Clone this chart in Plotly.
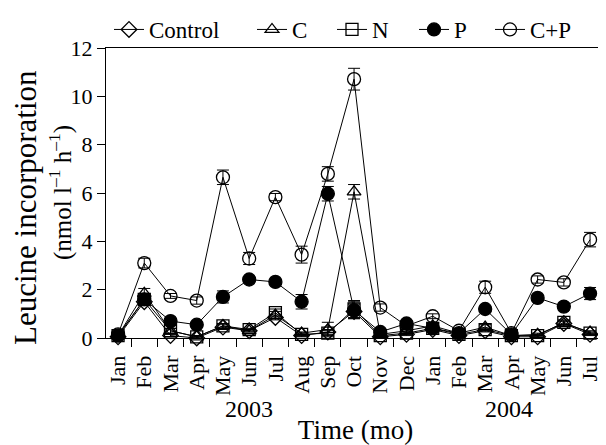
import plotly.graph_objects as go

months = ["Jan", "Feb", "Mar", "Apr", "May", "Jun", "Jul", "Aug", "Sep", "Oct", "Nov", "Dec",
          "Jan", "Feb", "Mar", "Apr", "May", "Jun", "Jul"]
x_idx = list(range(len(months)))

control = [0.05, 1.5, 0.1, 0.0, 0.45, 0.3, 0.85, 0.1, 0.25, 1.1, 0.05, 0.15, 0.35, 0.1, 0.3, 0.05, 0.05, 0.6, 0.15]
control_err = [0.05, 0.1, 0.05, 0.05, 0.1, 0.05, 0.1, 0.05, 0.1, 0.3, 0.05, 0.05, 0.05, 0.05, 0.05, 0.05, 0.05, 0.1, 0.05]
c_vals = [0.1, 1.85, 0.3, 0.05, 0.5, 0.3, 0.95, 0.2, 0.35, 6.05, 0.15, 0.3, 0.5, 0.2, 0.45, 0.1, 0.15, 0.6, 0.25]
c_err = [0.05, 0.2, 0.1, 0.05, 0.1, 0.05, 0.15, 0.05, 0.3, 0.3, 0.05, 0.05, 0.1, 0.05, 0.1, 0.05, 0.05, 0.1, 0.05]
n_vals = [0.1, 1.6, 0.3, 0.05, 0.5, 0.35, 1.05, 0.15, 0.2, 1.2, 0.1, 0.2, 0.4, 0.15, 0.35, 0.1, 0.1, 0.65, 0.2]
n_err = [0.05, 0.15, 0.1, 0.05, 0.1, 0.05, 0.15, 0.05, 0.1, 0.35, 0.05, 0.05, 0.05, 0.05, 0.05, 0.05, 0.05, 0.1, 0.05]
p_vals = [0.1, 1.6, 0.7, 0.55, 1.7, 2.42, 2.32, 1.5, 5.97, 1.15, 0.25, 0.6, 0.4, 0.2, 1.2, 0.15, 1.66, 1.3, 1.84]
p_err = [0.05, 0.15, 0.1, 0.1, 0.25, 0.1, 0.1, 0.3, 0.3, 0.35, 0.05, 0.1, 0.1, 0.05, 0.1, 0.05, 0.1, 0.15, 0.25]
cp_vals = [0.15, 3.1, 1.74, 1.55, 6.65, 3.29, 5.83, 3.45, 6.79, 10.71, 1.26, 0.5, 0.9, 0.3, 2.1, 0.2, 2.42, 2.3, 4.07]
cp_err = [0.05, 0.2, 0.1, 0.15, 0.3, 0.25, 0.15, 0.35, 0.3, 0.45, 0.15, 0.1, 0.1, 0.05, 0.25, 0.05, 0.15, 0.15, 0.3]

series = [
    ("Control", control, control_err, "diamond-open", 12, 98),
    ("C", c_vals, c_err, "triangle-up-open", 12, 35),
    ("N", n_vals, n_err, "square-open", 12, 37),
    ("P", p_vals, p_err, "circle", 13, 31),
    ("C+P", cp_vals, cp_err, "circle-open", 13, 50),
]

year_labels = ["2003", "2004"]
year_pos = [5, 14.9]
y_title_1 = "Leucine incorporation"
y_title_2 = "(nmol l<sup>–1</sup> h<sup>–1</sup>)"
x_title = "Time (mo)"

FONT = "Liberation Serif"
W, H = 598, 437  # page body adds ~8px offset

fig = go.Figure()
for name, vals, err, sym, size, lw in series:
    fig.add_trace(go.Scatter(
        x=x_idx, y=vals, name=name, mode="lines+markers",
        line=dict(color="black", width=1),
        marker=dict(symbol=sym, size=size, color="black",
                    line=dict(color="black", width=1.3)),
        error_y=dict(type="data", array=err, visible=True, color="black",
                     thickness=1, width=6),
        cliponaxis=False,
        legendwidth=lw,
    ))

for lab, pos in zip(year_labels, year_pos):
    fig.add_annotation(x=pos, y=-(409 - 338) / 290, xref="x", yref="paper", text=lab,
                       showarrow=False, yanchor="middle",
                       font=dict(family=FONT, size=24, color="black"))

# y-axis title (two lines)
fig.add_annotation(x=(17 - 98) / 499, y=(330 - 200) / 290, xref="paper", yref="paper",
                   text=y_title_1, textangle=-90, showarrow=False,
                   xanchor="center", yanchor="middle",
                   font=dict(family=FONT, size=31, color="black"))
fig.add_annotation(x=(52 - 98) / 499, y=(330 - 185) / 290, xref="paper", yref="paper",
                   text=y_title_2, textangle=-90, showarrow=False,
                   xanchor="center", yanchor="middle",
                   font=dict(family=FONT, size=25, color="black"))

fig.update_layout(
    width=W, height=H,
    margin=dict(l=98, r=1, t=40, b=107, autoexpand=False),
    paper_bgcolor="white", plot_bgcolor="white",
    font=dict(family=FONT, color="black", size=22),
    showlegend=True,
    legend=dict(orientation="h", xref="container", yref="container",
                x=101 / W, y=1.0, xanchor="left", yanchor="top",
                font=dict(family=FONT, size=23, color="black"),
                bgcolor="rgba(0,0,0,0)", itemclick=False),
)

fig.update_xaxes(
    range=[-0.46, 18.57], tickmode="array", tickvals=x_idx, ticktext=months,
    tickangle=-90, ticks="outside", ticklen=8, tickcolor="rgba(0,0,0,0)",
    tickfont=dict(family=FONT, size=22, color="black"),
    minor=dict(tickmode="array", tickvals=[i + 0.5 for i in range(19)],
               ticks="outside", ticklen=8, tickwidth=1, tickcolor="black", showgrid=False),
    showline=True, linecolor="black", linewidth=1, mirror=True,
    showgrid=False, zeroline=False, automargin=False,
    title=dict(text=x_title, font=dict(family=FONT, size=27, color="black"), standoff=30),
)
fig.update_yaxes(
    range=[0, 12], tickmode="linear", tick0=0, dtick=2,
    ticks="outside", ticklen=8, tickwidth=1, tickcolor="black",
    tickfont=dict(family=FONT, size=22, color="black"),
    showline=True, linecolor="black", linewidth=1, mirror=True,
    showgrid=False, zeroline=False, automargin=False,
)

fig.write_html("out.html")
